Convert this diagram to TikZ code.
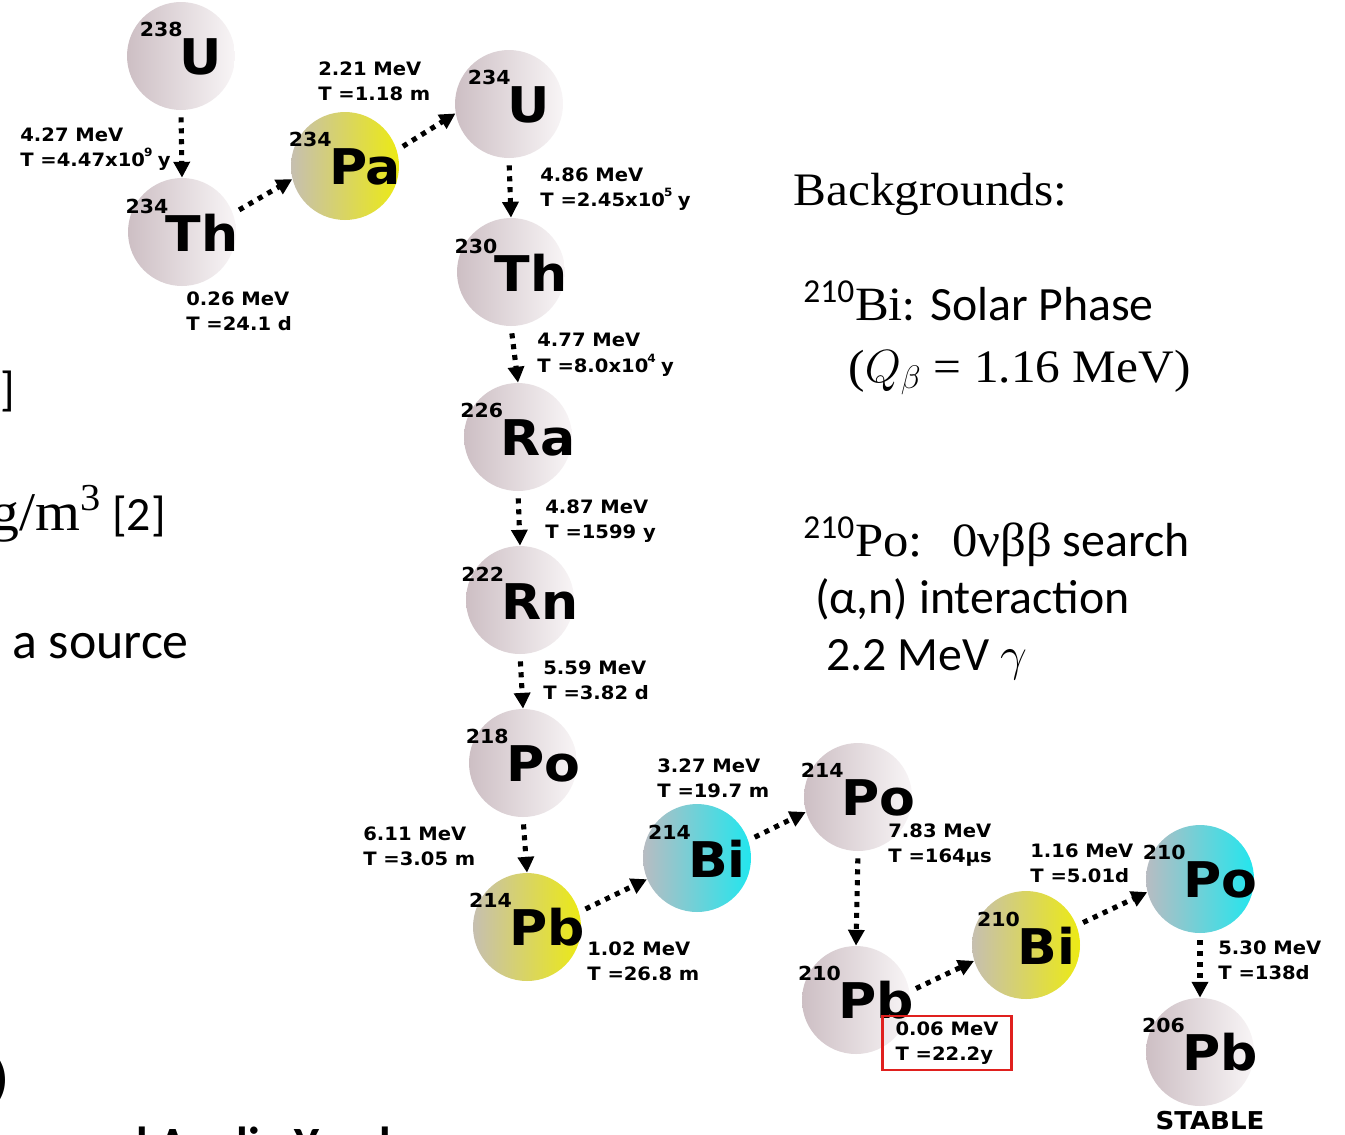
\documentclass[tikz,border=0pt]{standalone}
\usepackage{fix-cm}
\usepackage{fontspec}
\setmainfont{Liberation Serif}
\newfontfamily\dejab{DejaVu Sans}[FakeStretch=1.06]
\newfontfamily\carl{Carlito}
\newfontfamily\camb{Liberation Serif}[FakeStretch=1.06]
\usetikzlibrary{arrows.meta,positioning}
\definecolor{gryL}{HTML}{CDBFC4}
\definecolor{gryR}{HTML}{F8F5F6}
\definecolor{yelL}{HTML}{C6BFB0}
\definecolor{yelR}{HTML}{ECEA14}
\definecolor{cyaL}{HTML}{B8BCC2}
\definecolor{cyaR}{HTML}{22E6EE}
\definecolor{boxred}{HTML}{E0201E}
\newcommand{\iso}[2]{\raisebox{21.5pt}{\fontsize{11}{11}\selectfont#1}\kern-1.5pt{\fontsize{28}{28}\selectfont#2}}
\newcommand{\pw}[1]{\kern-0.5pt\raisebox{5.5pt}{\fontsize{6.5}{6.5}\selectfont#1}\kern3pt}

\begin{document}
\begin{tikzpicture}[x=0.02cm,y=-0.02cm,font=\dejab\bfseries,
  nuc/.style={circle,inner sep=0pt,minimum size=2.16cm},
  decay/.style={line width=2.9pt,dash pattern=on 2.9pt off 3.3pt,-{Triangle[length=9pt,width=9pt]},shorten <=4pt},
  qval/.style={anchor=north west,inner sep=0pt,align=left,font=\dejab\bfseries\fontsize{10.5}{14.4}\selectfont},
  note/.style={anchor=base west,inner sep=0pt,font=\carl\fontsize{27.2}{30}\selectfont}]
  \useasboundingbox (0,0) rectangle (1345,1134);
  \fill[white] (0,0) rectangle (1345,1134);
  \clip (0,0) rectangle (1345,1134);
  \foreach \n/\x/\y/\m/\s/\col in {u238/181/56/238/U/gry,th234/182/232/234/Th/gry,pa234/345/166/234/Pa/yel,
      u234/509/104/234/U/gry,th230/511/272/230/Th/gry,ra226/518/437/226/Ra/gry,rn222/520/600/222/Rn/gry,
      po218/523/763/218/Po/gry,pb214/527/927/214/Pb/yel,bi214/697/858/214/Bi/cya,po214/858/797/214/Po/gry,
      pb210/856/1000/210/Pb/gry,bi210/1026/945/210/Bi/yel,po210/1200/879/210/Po/cya,pb206/1200/1052/206/Pb/gry} {
    \node[nuc,left color=\col L,right color=\col R,label={[yshift=4pt]center:{\iso{\m}{\s}}}] (\n) at (\x,\y) {};
  }
  \foreach \a/\b/\p/\q in {u238/th234/270/90,th234/pa234/20/194,pa234/u234/17/190,u234/th230/270/90,
      th230/ra226/270/90,ra226/rn222/270/90,rn222/po218/270/90,po218/pb214/270/90,pb214/bi214/16/203,
      bi214/po214/19/196,po214/pb210/270/90,pb210/bi210/9/197,bi210/po210/21/194,po210/pb206/270/90} {
    \draw[decay] (\a.\p) -- (\b.\q);
  }
  \foreach \n/\x/\y/\e/\t in {a/20/127/4.27/{4.47x10\pw{9}y},b/186/291/0.26/24.1 d,c/318/61/2.21/1.18 m,
      d/540/167/4.86/{2.45x10\pw{5}y},e/537/333/4.77/{8.0x10\pw{4}y},f/545/499/4.87/1599 y,g/543/660/5.59/3.82 d,
      h/363/826/6.11/3.05 m,i/587/941/1.02/26.8 m,j/657/758/3.27/19.7 m,k/888/823/7.83/164μs,
      l/1030/843/1.16/5.01d,m/1218/940/5.30/138d} {
    \node[qval] (q\n) at (\x,\y) {\e~MeV\\T =\t};
  }
  \node[draw=boxred,line width=1.4pt,inner sep=0pt,align=left,minimum width=2.58cm,minimum height=1.08cm,
    font=\dejab\bfseries\fontsize{10.5}{14.4}\selectfont] (qn) at (947,1043) {0.06 MeV\\T =22.2y};
  \node[font=\dejab\bfseries\fontsize{14}{14}\selectfont] (stab) at (1210,1121) {STABLE};
  \node[note,font=\camb\fontsize{26.5}{30}\selectfont] (bkg) at (793,205) {Backgrounds:};
  \node[note] (bi) at (803,320) {\textsuperscript{210}{\camb Bi}: Solar Phase};
  \node[note,font=\camb\fontsize{26.5}{30}\selectfont] (qb) at (848,382) {($Q_\beta$ = 1.16 MeV)};
  \node[note] (po) at (803,556) {\textsuperscript{210}{\camb Po:~ 0νββ} search};
  \node[note] (an) at (815,613) {(α,n) interaction};
  \node[note] (gam) at (826,670) {2.2 MeV $\gamma$};
  \node[note,anchor=base east] (f1) at (15,405) {1]};
  \node[note,anchor=base east] (f2) at (166,530) {{\camb\fontsize{31}{31}\selectfont g/m\textsuperscript{3}}\kern6pt[2]};
  \node[note,font=\carl\fontsize{29.5}{30}\selectfont] (f3) at (12,658) {a source};
  \node[note,anchor=base east,font=\carl\bfseries\fontsize{27.2}{30}\selectfont] (f4) at (9,1094) {)};
  \node[note,font=\carl\bfseries\fontsize{27.2}{30}\selectfont] (f5) at (96,1160) {nd Analia Yeud};
\end{tikzpicture}
\end{document}
